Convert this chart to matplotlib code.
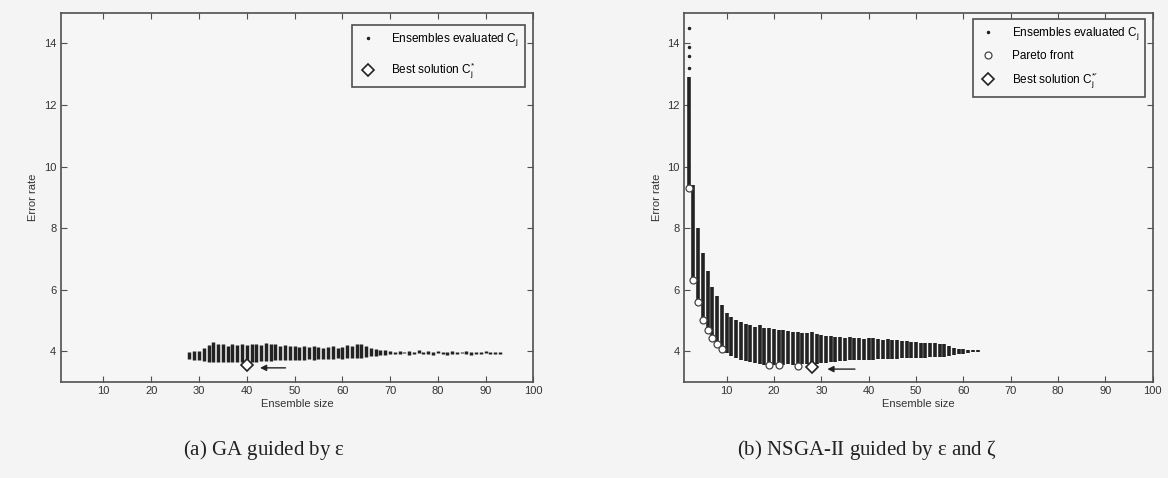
import matplotlib
matplotlib.use("Agg")
import matplotlib.pyplot as plt
from matplotlib.lines import Line2D

plt.rcParams['font.family'] = ['Liberation Sans', 'DejaVu Sans']
plt.rcParams['mathtext.fontset'] = 'stix'
plt.rcParams['mathtext.default'] = 'regular'

# ---------------- data: (a) GA ----------------
ga_sizes = list(range(28, 94))
ga_low = [3.75, 3.72, 3.70, 3.68, 3.66, 3.64, 3.65, 3.64, 3.66, 3.65,
          3.66, 3.64, 3.62, 3.66, 3.65, 3.68, 3.67, 3.68, 3.70, 3.70,
          3.72, 3.70, 3.72, 3.73, 3.72, 3.74, 3.73, 3.75, 3.74, 3.76,
          3.75, 3.77, 3.76, 3.78, 3.77, 3.78, 3.79, 3.80, 3.84, 3.86,
          3.87, 3.88, 3.90, 3.92, 3.90, 3.93, 3.89, 3.91, 3.94, 3.90,
          3.92, 3.88, 3.93, 3.91, 3.89, 3.92, 3.90, 3.93, 3.91, 3.89,
          3.92, 3.90, 3.93, 3.91, 3.90, 3.92]
ga_high = [3.98, 4.00, 4.02, 4.10, 4.20, 4.30, 4.22, 4.25, 4.18, 4.22,
           4.20, 4.24, 4.20, 4.22, 4.25, 4.20, 4.26, 4.24, 4.22, 4.18,
           4.20, 4.16, 4.18, 4.15, 4.18, 4.14, 4.16, 4.15, 4.12, 4.14,
           4.16, 4.12, 4.15, 4.20, 4.18, 4.22, 4.25, 4.18, 4.10, 4.06,
           4.05, 4.04, 4.02, 3.99, 4.01, 3.98, 4.02, 3.97, 4.03, 3.99,
           4.00, 3.97, 4.02, 3.98, 3.96, 4.01, 3.99, 3.97, 4.00, 3.96,
           3.99, 3.98, 4.01, 3.97, 3.99, 3.97]
ga_best_x = [40]
ga_best_y = [3.56]

# ---------------- data: (b) NSGA-II ----------------
ns_sizes = list(range(2, 64))
ns_low = [9.3, 6.3, 5.6, 5.0, 4.7, 4.4, 4.2, 4.05, 3.95, 3.85,
          3.78, 3.72, 3.68, 3.64, 3.61, 3.58, 3.56, 3.55, 3.55, 3.55,
          3.56, 3.57, 3.56, 3.52, 3.57, 3.58, 3.49, 3.60, 3.62, 3.63,
          3.65, 3.66, 3.67, 3.68, 3.70, 3.70, 3.71, 3.72, 3.72, 3.73,
          3.74, 3.75, 3.75, 3.76, 3.76, 3.77, 3.77, 3.78, 3.78, 3.79,
          3.79, 3.80, 3.80, 3.81, 3.82, 3.84, 3.88, 3.90, 3.92, 3.94,
          3.96, 3.97]
ns_high = [12.9, 9.4, 8.0, 7.2, 6.6, 6.1, 5.8, 5.5, 5.25, 5.1,
           5.0, 4.95, 4.9, 4.85, 4.8, 4.85, 4.75, 4.75, 4.72, 4.7,
           4.68, 4.65, 4.62, 4.62, 4.6, 4.58, 4.62, 4.55, 4.52, 4.5,
           4.48, 4.47, 4.45, 4.44, 4.46, 4.42, 4.44, 4.40, 4.43, 4.42,
           4.40, 4.38, 4.40, 4.36, 4.35, 4.33, 4.32, 4.30, 4.30, 4.28,
           4.28, 4.27, 4.26, 4.24, 4.22, 4.18, 4.12, 4.08, 4.06, 4.05,
           4.04, 4.03]
ns_outlier_x = [2, 2, 2, 2]
ns_outlier_y = [13.2, 13.6, 13.9, 14.5]
pareto_x = [2, 3, 4, 5, 6, 7, 8, 9, 19, 21, 25, 28]
pareto_y = [9.3, 6.3, 5.6, 5.0, 4.7, 4.42, 4.22, 4.07, 3.55, 3.55, 3.52, 3.49]
ns_best_x = [28]
ns_best_y = [3.49]

x_ticks = [10, 20, 30, 40, 50, 60, 70, 80, 90, 100]
y_ticks = [4, 6, 8, 10, 12, 14]

BG = '#f4f4f4'
INK = '#222222'
SP = '#505050'

fig = plt.figure(figsize=(11.68, 4.78), dpi=100, facecolor=BG)
ax_a = fig.add_axes([0.0518, 0.2008, 0.4048, 0.7726])
ax_b = fig.add_axes([0.5856, 0.2008, 0.4013, 0.7726])


def style(ax):
    ax.set_facecolor('#f6f6f6')
    ax.set_xlim(1, 100)
    ax.set_ylim(3, 15)
    ax.set_xticks(x_ticks)
    ax.set_yticks(y_ticks)
    ax.tick_params(direction='in', top=True, right=True, length=4,
                   width=0.8, color=SP, labelsize=8, labelcolor='#333333', pad=3)
    for s in ax.spines.values():
        s.set_color(SP)
        s.set_linewidth(1.2)
    ax.set_xlabel('Ensemble size', fontsize=8, color='#333333', labelpad=2)
    ax.set_ylabel('Error rate', fontsize=8, color='#333333', labelpad=4)


# ----- (a)
style(ax_a)
ax_a.vlines(ga_sizes, ga_low, ga_high, colors=INK, linewidth=2.5)
ax_a.plot(ga_best_x, ga_best_y, linestyle='none', marker='D', markersize=6,
          markerfacecolor='white', markeredgecolor=INK, markeredgewidth=1.2)
ax_a.annotate('', xy=(42.2, 3.46), xytext=(48.7, 3.46),
              arrowprops=dict(arrowstyle='-|>', color=INK, lw=1.0,
                              mutation_scale=9))
h_a = [Line2D([], [], linestyle='none', marker='.', markersize=3, color=INK),
       Line2D([], [], linestyle='none', marker='D', markersize=6,
              markerfacecolor='white', markeredgecolor=INK, markeredgewidth=1.2)]
leg_a = ax_a.legend(h_a, ['Ensembles evaluated $C_j$', 'Best solution $C_j^{*}$'],
                    loc='upper right', bbox_to_anchor=(0.982, 0.967),
                    fontsize=8.5, labelspacing=1.1, handlelength=1.6,
                    handletextpad=1.2, borderpad=0.5, borderaxespad=0,
                    fancybox=False, framealpha=1, facecolor='#f6f6f6',
                    edgecolor=SP)
leg_a.get_frame().set_linewidth(1.2)

# ----- (b)
style(ax_b)
ax_b.vlines(ns_sizes, ns_low, ns_high, colors=INK, linewidth=2.6)
ax_b.plot(ns_outlier_x, ns_outlier_y, linestyle='none', marker='.',
          markersize=3, color=INK)
ax_b.plot(pareto_x, pareto_y, linestyle='none', marker='o', markersize=5,
          markerfacecolor='white', markeredgecolor='#444444', markeredgewidth=0.9)
ax_b.plot(ns_best_x, ns_best_y, linestyle='none', marker='D', markersize=6,
          markerfacecolor='white', markeredgecolor=INK, markeredgewidth=1.2)
ax_b.annotate('', xy=(30.7, 3.42), xytext=(37.7, 3.42),
              arrowprops=dict(arrowstyle='-|>', color=INK, lw=1.0,
                              mutation_scale=9))
h_b = [Line2D([], [], linestyle='none', marker='.', markersize=3, color=INK),
       Line2D([], [], linestyle='none', marker='o', markersize=5,
              markerfacecolor='white', markeredgecolor='#444444', markeredgewidth=0.9),
       Line2D([], [], linestyle='none', marker='D', markersize=6,
              markerfacecolor='white', markeredgecolor=INK, markeredgewidth=1.2)]
leg_b = ax_b.legend(h_b, ['Ensembles evaluated $C_j$', 'Pareto front',
                          "Best solution $C_j^{*\\prime}$"],
                    loc='upper right', bbox_to_anchor=(0.9836, 0.983),
                    fontsize=8.5, labelspacing=0.7, handlelength=1.6,
                    handletextpad=1.2, borderpad=0.5, borderaxespad=0,
                    fancybox=False, framealpha=1, facecolor='#f6f6f6',
                    edgecolor=SP)
leg_b.get_frame().set_linewidth(1.2)

# ----- captions
cap_kw = dict(fontsize=15, family=['Liberation Serif', 'DejaVu Serif'],
              color='#222222', va='center', ha='left')
fig.text(183 / 1168, 1 - 450 / 478, r'(a) GA guided by $\epsilon$', **cap_kw)
fig.text(737 / 1168, 1 - 450 / 478, r'(b) NSGA-II guided by $\epsilon$ and $\zeta$', **cap_kw)

fig.savefig('out.png', dpi=100, facecolor=BG)
